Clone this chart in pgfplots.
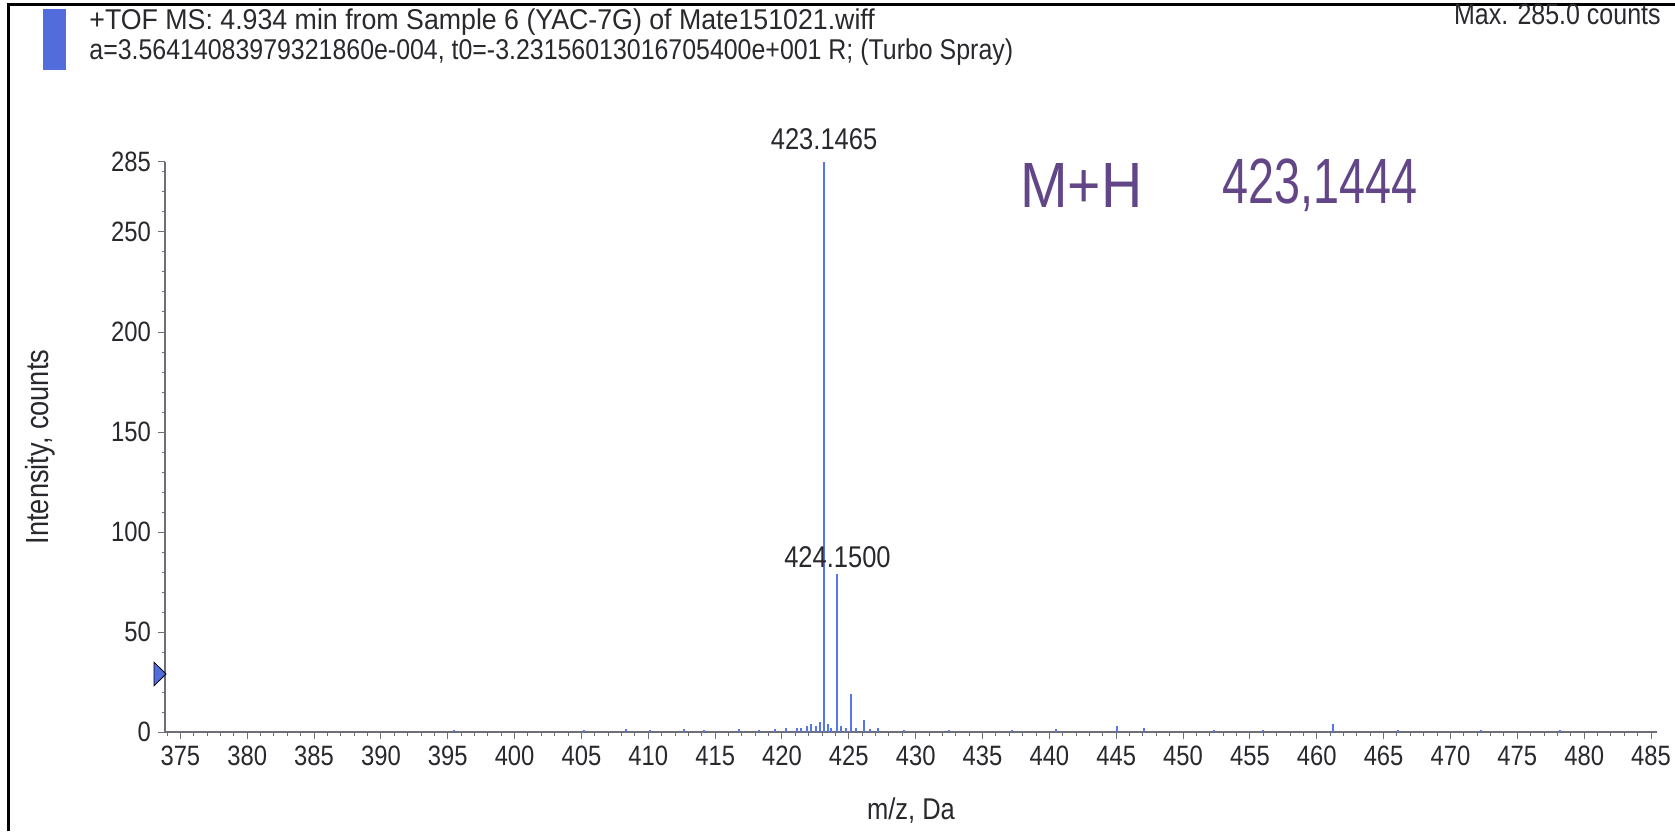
\documentclass[border=0pt]{standalone}
\usepackage{pgfplots}
\pgfplotsset{compat=1.18}
\usepackage{fontspec}
\usepackage{graphicx}
\setmainfont{Liberation Sans}[FakeStretch=0.85]
\definecolor{specblue}{RGB}{88,118,232}
\definecolor{barblue}{RGB}{82,108,220}
\definecolor{inkpurple}{RGB}{98,70,135}
\definecolor{labelgray}{RGB}{40,40,45}
\definecolor{axisgray}{RGB}{110,110,120}

% centroid m/z and intensity of each detected signal
\pgfplotstableread{
mz       counts
395.5    1
405.2    1
408.3    1.5
410.1    1
412.7    1.5
414.2    1
416.8    1.5
418.3    1
419.5    1.5
420.3    2
421.10   2
421.45   2
421.85   3
422.20   4
422.55   3
422.85   5
423.1465 285
423.45   4
423.70   2
424.1500 79
424.45   3
424.75   2
425.15   19
425.50   2
426.16   6
426.60   1.5
427.15   2
429.1    1
432.5    1
437.2    1
440.5    1.5
445.05   3
447.1    2
452.3    1
456.0    1
461.2    4
466.1    1
472.3    1
478.2    1
}\spectrum

\begin{document}
\begin{tikzpicture}
\path[use as bounding box] (0,0) rectangle (837.5pt,415.5pt);
\begin{scope}[x=0.5pt,y=-0.5pt,shift={(0pt,415.5pt)}]
  % page frame
  \draw[line width=1.5pt,black] (8,831) -- (8,5) -- (1675,5);
  % pane marker
  \fill[barblue] (43,9) rectangle (66,70);
  % header
  \node[anchor=base west,inner sep=0pt,text=labelgray,font=\fontsize{14.3}{16}\selectfont]
    at (89,30) {\scalebox{1.1}[1]{+TOF MS: 4.934 min from Sample 6 (YAC-7G) of Mate151021.wiff}};
  \node[anchor=base west,inner sep=0pt,text=labelgray,font=\fontsize{14.3}{16}\selectfont]
    at (89,60) {\scalebox{1.025}[1]{a=3.56414083979321860e-004, t0=-3.23156013016705400e+001 R; (Turbo Spray)}};
  \node[anchor=base east,inner sep=0pt,text=labelgray,font=\fontsize{14.7}{16}\selectfont]
    at (1661,25) {Max. 285.0 counts};
  % ink annotation
  \node[anchor=base west,inner sep=0pt,text=inkpurple,font=\fontsize{32}{36}\selectfont]
    at (1020,208) {\scalebox{1.05}[1]{M+H}};
  \node[anchor=base west,inner sep=0pt,text=inkpurple,font=\fontsize{32}{36}\selectfont]
    at (1222,204) {\scalebox{0.86}[1]{423,1444}};
\end{scope}

\begin{axis}[
  at={(82.5pt,49.5pt)}, anchor=south west,
  width=746pt, height=285pt, scale only axis,
  xmin=373.85, xmax=485.45, ymin=0, ymax=285,
  axis lines=left,
  axis line style={-, axisgray, line width=0.6pt},
  xtick={375,380,...,485},
  ytick={0,50,100,150,200,250,285},
  minor xtick={374,...,485},
  minor ytick={10,20,...,280},
  tick align=outside,
  major tick length=3.5pt, minor tick length=1.75pt,
  tick style={axisgray, line width=0.5pt},
  ticklabel style={font=\fontsize{14}{16}\selectfont, text=labelgray},
  /pgf/number format/assume math mode=true,
  xlabel={m/z, Da},
  ylabel={Intensity, counts},
  xlabel style={font=\fontsize{15}{17}\selectfont, text=labelgray,
    at={(axis description cs:0.5,-0.138)}, anchor=center},
  ylabel style={font=\fontsize{16}{18}\selectfont, text=labelgray,
    at={(axis description cs:-0.0834,0.5)}, anchor=center},
  clip=false,
]
\addplot[ycomb, specblue, line width=1pt] table[x=mz, y=counts] {\spectrum};
% threshold marker on the intensity axis
\addplot[only marks, mark=triangle*, mark size=6.8pt,
  mark options={xscale=0.59, rotate=-90, fill=barblue, draw=none}] coordinates {(373.33,29)};
\node[anchor=base, inner sep=0pt, text=labelgray, font=\fontsize{15}{17}\selectfont]
  at (axis cs:423.1465,291) {423.1465};
\node[anchor=base, inner sep=0pt, text=labelgray, font=\fontsize{15}{17}\selectfont]
  at (axis cs:424.15,82.5) {424.1500};
\end{axis}
\end{tikzpicture}
\end{document}
